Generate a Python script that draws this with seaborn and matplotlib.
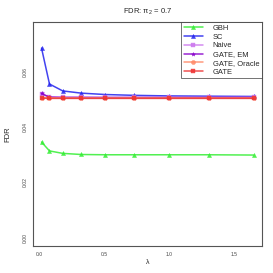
import numpy as np
import pandas as pd
import matplotlib
matplotlib.use("Agg")
import matplotlib.pyplot as plt
import seaborn as sns

# lambda grid
lam = [0.0204, 0.0816, 0.1837, 0.3265, 0.5102, 0.7347, 1.0, 1.3061, 1.6531]

gbh = [0.0346, 0.0314, 0.0305, 0.0301, 0.0300, 0.0300, 0.0300, 0.0300, 0.0299]
sc = [0.0686, 0.0556, 0.0531, 0.0523, 0.0518, 0.0515, 0.0513, 0.0512, 0.0511]
naive = [0.0519, 0.0510, 0.0509, 0.0509, 0.0508, 0.0508, 0.0508, 0.0508, 0.0508]
gate_em = [0.0522, 0.0508, 0.0507, 0.0507, 0.0507, 0.0507, 0.0507, 0.0507, 0.0507]
gate_oracle = [0.0507, 0.0506, 0.0506, 0.0506, 0.0506, 0.0506, 0.0506, 0.0506, 0.0506]
gate = [0.0505, 0.0504, 0.0504, 0.0504, 0.0504, 0.0504, 0.0504, 0.0504, 0.0504]

methods = ["GBH", "SC", "Naive", "GATE, EM", "GATE, Oracle", "GATE"]
values = [gbh, sc, naive, gate_em, gate_oracle, gate]
colors = ["#33ee33", "#2222ee", "#cc77ee", "#8800cc", "#ff8866", "#ee3333"]
markers = ["^", "^", "s", "*", "o", "s"]

df = pd.DataFrame({
    "lambda": lam * len(methods),
    "FDR": sum(values, []),
    "method": np.repeat(methods, len(lam)),
})

sns.set_style("white")
plt.rcParams["font.family"] = ["Liberation Sans", "DejaVu Sans"]
plt.rcParams["mathtext.default"] = "regular"

fig = plt.figure(figsize=(2.73, 2.73), dpi=100)
ax = fig.add_axes([0.121, 0.099, 0.839, 0.82])

for m, c, mk in zip(methods, colors, markers):
    sns.lineplot(data=df[df["method"] == m], x="lambda", y="FDR", ax=ax,
                 color=c, marker=mk, markersize=3.0, markeredgewidth=0.3,
                 markeredgecolor=c, linewidth=1.1, alpha=0.85, label=m)

ax.set_xlim(-0.045, 1.718)
ax.set_ylim(-0.003, 0.078)
ax.set_xticks([0.0, 0.5, 1.0, 1.5])
ax.set_xticklabels(["0.0", "0.5", "1.0", "1.5"])
ax.set_yticks([0.00, 0.02, 0.04, 0.06])
ax.set_yticklabels(["0.00", "0.02", "0.04", "0.06"], rotation=90, va="center")
ax.tick_params(axis="both", labelsize=3.6, length=2, width=0.5, pad=2,
               colors="#444444")
for s in ax.spines.values():
    s.set_color("#555555")
    s.set_linewidth(0.8)
ax.set_xlabel("λ", fontsize=5, labelpad=2)
ax.set_ylabel("FDR", fontsize=5.5, labelpad=8)
ax.set_title(r"FDR: $\pi_2$ = 0.7", fontsize=5.5, pad=6)

leg = ax.legend(loc="upper right", fontsize=5.4, frameon=True, fancybox=False,
                borderaxespad=0, handlelength=2.6, handletextpad=1.3,
                labelspacing=0.2, borderpad=0.35)
leg.get_frame().set_edgecolor("#333333")
leg.get_frame().set_linewidth(0.6)

fig.savefig("out.png", dpi=100)
